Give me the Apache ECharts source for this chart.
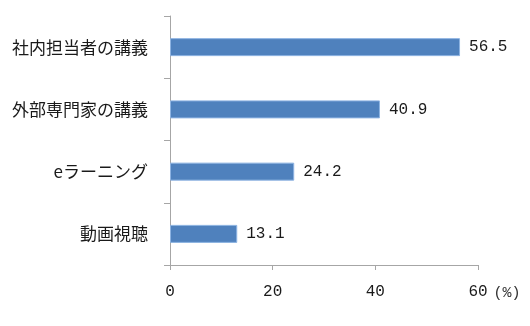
<!DOCTYPE html>
<html><head><meta charset="utf-8">
<script src="https://cdn.jsdelivr.net/npm/echarts@6/dist/echarts.min.js"></script>
<style>html,body{margin:0;padding:0;background:#fff}#c{width:530px;height:326px}</style>
</head><body><div id="c"></div>
<script>
const categories = ['動画視聴', 'eラーニング', '外部専門家の講義', '社内担当者の講義'];
const values = [13.1, 24.2, 40.9, 56.5];
const xTicks = [0, 20, 40, 60];
const unitLabel = '(%)';

const chart = echarts.init(document.getElementById('c'));
chart.setOption({
  animation: false,
  backgroundColor: '#fff',
  grid: { left: 170, right: 52, top: 16, bottom: 61 },
  xAxis: {
    type: 'value', min: xTicks[0], max: xTicks[xTicks.length - 1], interval: 20,
    axisLine: { show: true, lineStyle: { color: '#a6a6a6', width: 1 } },
    axisTick: { show: true, length: 5, lineStyle: { color: '#a6a6a6' } },
    splitLine: { show: false },
    axisLabel: { margin: 19, color: '#1a1a1a', fontFamily: 'Liberation Mono', fontSize: 16 },
    name: unitLabel, nameLocation: 'end', nameGap: 14,
    nameTextStyle: { color: '#333', fontFamily: 'Liberation Mono', fontSize: 15, align: 'left', verticalAlign: 'top', padding: [21, 0, 0, 0] }
  },
  yAxis: {
    type: 'category', data: categories,
    axisLine: { show: true, lineStyle: { color: '#a6a6a6', width: 1 } },
    axisTick: { show: true, length: 6, lineStyle: { color: '#a6a6a6' } },
    axisLabel: { margin: 22, color: '#1a1a1a', fontFamily: 'Noto Sans CJK JP', fontSize: 17 }
  },
  series: [{
    type: 'bar', data: values, barWidth: 18,
    itemStyle: { color: '#4f81bd', borderColor: '#8db3e2', borderWidth: 1 },
    label: { show: true, position: 'right', distance: 9, color: '#1a1a1a', fontFamily: 'Liberation Mono', fontSize: 16, formatter: p => p.value.toFixed(1) }
  }]
});
</script></body></html>
